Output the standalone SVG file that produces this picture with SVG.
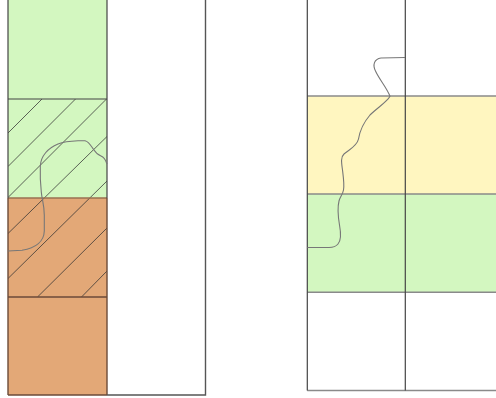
<svg xmlns="http://www.w3.org/2000/svg" width="496" height="398" viewBox="0 0 496 398">
<style>
.green{fill:#d3f7c0}
.brown{fill:#e3a877}
.yellow{fill:#fff6c0}
.white{fill:#ffffff}
.edge{fill:none;stroke:#444;stroke-width:1.2}
.bedge{fill:none;stroke:#6b4a38;stroke-width:1.4}
.gline{stroke:#8a8a8a;stroke-width:1.4}
.hatch{stroke:#333;stroke-width:0.9;stroke-opacity:0.85}
.curve{fill:none;stroke:#777;stroke-width:1.1}
</style>
<defs>
<clipPath id="hclip"><rect x="8" y="99" width="99" height="198"/></clipPath>
</defs>
<rect width="496" height="398" fill="#fff"/>
<g id="left-panel">
<rect class="green" x="8" y="-2" width="99" height="200"/>
<rect class="brown" x="8" y="198" width="99" height="197"/>
<rect class="white" x="107" y="-2" width="98.5" height="397"/>
<g id="hatching" clip-path="url(#hclip)">
<line class="hatch" x1="8" y1="133" x2="42" y2="99"/>
<line class="hatch" x1="8" y1="166.5" x2="76" y2="98.5"/>
<line class="hatch" x1="8" y1="197.5" x2="107" y2="98.5"/>
<line class="hatch" x1="8" y1="233.5" x2="107" y2="136.5"/>
<line class="hatch" x1="8" y1="278.5" x2="107" y2="181"/>
<line class="hatch" x1="37.5" y1="297" x2="107" y2="228"/>
<line class="hatch" x1="81.5" y1="297" x2="107" y2="271"/>
</g>
<line class="edge" x1="8" y1="99" x2="107" y2="99"/>
<line class="bedge" x1="8" y1="297" x2="107" y2="297"/>
<line x1="8" y1="198" x2="107" y2="198" stroke="#9a7050" stroke-width="1.4"/>
<line class="edge" x1="8" y1="-2" x2="8" y2="198"/>
<line class="bedge" x1="8" y1="198" x2="8" y2="395"/>
<line class="edge" x1="107" y1="-2" x2="107" y2="198"/>
<line class="bedge" x1="107" y1="198" x2="107" y2="395"/>
<line class="bedge" x1="8" y1="395" x2="107" y2="395"/>
<polyline points="107,395 205.5,395 205.5,-2" fill="none" stroke="#555" stroke-width="1.4"/>
<path class="curve" d="M8,251 L22,250.3 C36,248 44,241 44.3,231 L44.3,215 C44.3,205 42,200 41.3,192 C40.5,185 40,176 40.3,166 C40.8,156 48,148 58,144 C64,141.5 70,141 78,140.7 L85,140.7 C89,141.5 91,146 94,150 C96,153 98,155 101,156 C104,157 106,161 107,164"/>
</g>
<g id="right-panel">
<rect class="white" x="307.3" y="-2" width="200" height="98"/>
<rect class="yellow" x="307.3" y="96" width="200" height="98"/>
<rect class="green" x="307.3" y="194" width="200" height="98"/>
<rect class="white" x="307.3" y="292" width="200" height="98.5"/>
<line class="gline" x1="307.3" y1="96" x2="500" y2="96"/>
<line class="gline" x1="307.3" y1="194" x2="500" y2="194"/>
<line class="gline" x1="307.3" y1="292.3" x2="500" y2="292.3"/>
<line class="gline" x1="307.3" y1="390.5" x2="500" y2="390.5"/>
<line class="edge" x1="307.3" y1="-2" x2="307.3" y2="390.5"/>
<line class="edge" x1="405.3" y1="-2" x2="405.3" y2="390.5"/>
<path class="curve" d="M405,57.5 L381,58 C374,59 372.5,65 375.5,71 C379,79 387,88 390,96.3 C387,102 377,108 370,115 C364,122 360,130 358.5,139 C357,146 350,149 344,154 C340.5,157 341.5,163 342.5,170 C343.5,178 344.5,185 343.5,190 C342.5,195 340,197 339,201 C337.5,207 338,216 339.5,225 C341,233 341.5,240 338,244 C336,246.5 333,247.5 329,247.5 L307.3,247.5"/>
</g>
</svg>
